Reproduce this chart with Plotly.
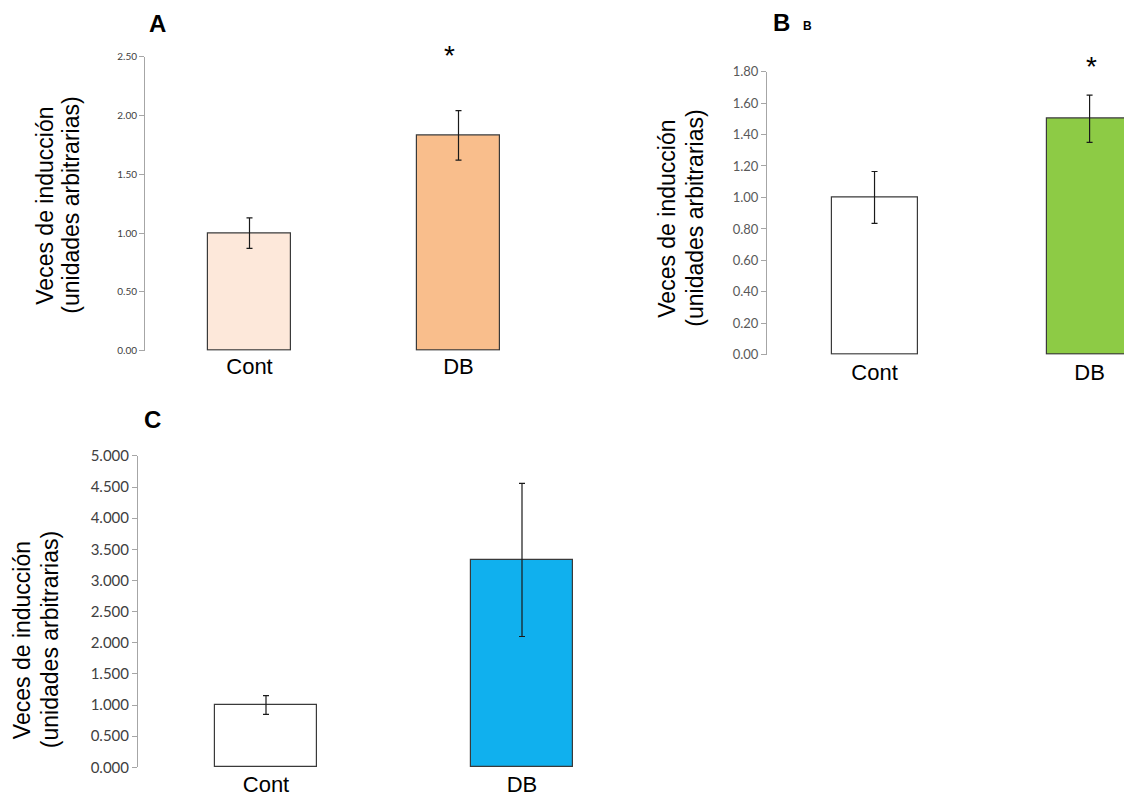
import plotly.graph_objects as go

W = 1124
FIG_H = 818
# measured mapping of figure pixels to the captured picture: shot_y = 9.5 + 0.977 * fig_y
SHOT_OFF = 9.5
SHOT_SCALE = 0.977

categories = ["Cont", "DB"]

a_values = [1.00, 1.83]
a_err = [0.13, 0.21]
a_colors = ["#FDE8DA", "#F9BE8C"]
a_ticks = [0.0, 0.5, 1.0, 1.5, 2.0, 2.5]

b_values = [1.00, 1.50]
b_err = [0.165, 0.15]
b_colors = ["#FFFFFF", "#8DCB45"]
b_ticks = [0.0, 0.2, 0.4, 0.6, 0.8, 1.0, 1.2, 1.4, 1.6, 1.8]

c_values = [1.00, 3.33]
c_err = [0.15, 1.23]
c_colors = ["#FFFFFF", "#10B0EE"]
c_ticks = [0.0, 0.5, 1.0, 1.5, 2.0, 2.5, 3.0, 3.5, 4.0, 4.5, 5.0]

ytitle1 = "Veces de inducción"
ytitle2 = "(unidades arbitrarias)"


def px(x):
    return x / W


def py(y):
    fig_y = (y - SHOT_OFF) / SHOT_SCALE
    return 1 - fig_y / FIG_H


fig = go.Figure()

panels = [
    ("x", "y", a_values, a_err, a_colors),
    ("x2", "y2", b_values, b_err, b_colors),
    ("x3", "y3", c_values, c_err, c_colors),
]
for xa, ya, vals, errs, cols in panels:
    fig.add_trace(go.Bar(
        x=categories, y=vals, xaxis=xa, yaxis=ya, width=0.4,
        marker=dict(color=cols, line=dict(color="#3A3A3A", width=1.2)),
        error_y=dict(type="data", array=errs, visible=True, color="#1A1A1A",
                     thickness=1.2, width=3),
        showlegend=False, hoverinfo="skip",
    ))

xcommon = dict(showline=False, showgrid=False, zeroline=False, ticks="",
               tickfont=dict(family="Liberation Sans, Arial", size=22, color="#000000"),
               type="category", fixedrange=True)
ycommon = dict(showline=True, linecolor="#A6A6A6", linewidth=1, showgrid=False,
               zeroline=False, ticks="outside", ticklen=5, tickcolor="#A6A6A6",
               tickwidth=1, fixedrange=True)

fig.update_layout(
    width=W, height=FIG_H,
    margin=dict(l=0, r=0, t=0, b=0),
    paper_bgcolor="white", plot_bgcolor="rgba(0,0,0,0)",
    bargap=0,
    xaxis=dict(xcommon, domain=[px(145), px(563)], range=[-0.5, 1.5], anchor="y"),
    yaxis=dict(ycommon, domain=[py(350), py(56)], range=[0, 2.5], anchor="x",
               tickvals=a_ticks, tickformat=".2f",
               tickfont=dict(family="Lato", size=10, color="#404040")),
    xaxis2=dict(xcommon, domain=[px(767), 1.0], range=[-0.5, 1.16], anchor="y2",
                ticklabelstandoff=2),
    yaxis2=dict(ycommon, domain=[py(354), py(71)], range=[0, 1.8], anchor="x2",
                tickvals=b_ticks, tickformat=".2f",
                tickfont=dict(family="Lato", size=13, color="#595959")),
    xaxis3=dict(xcommon, domain=[px(138), px(650)], range=[-0.5, 1.5], anchor="y3",
                ticklabelstandoff=2),
    yaxis3=dict(ycommon, domain=[py(766), py(455)], range=[0, 5], anchor="x3",
                tickvals=c_ticks, tickformat=".3f",
                tickfont=dict(family="Lato", size=15, color="#404040")),
)

title_font = dict(family="Liberation Sans, Arial", size=23, color="#000000")
annotations = []
for (x1, x2, yc) in [(45, 71, 205), (667, 695, 218), (22, 50, 639)]:
    annotations.append(dict(x=px(x1), y=py(yc), xref="paper", yref="paper",
                            text=ytitle1, textangle=-90, showarrow=False,
                            font=title_font, xanchor="center", yanchor="middle"))
    annotations.append(dict(x=px(x2), y=py(yc), xref="paper", yref="paper",
                            text=ytitle2, textangle=-90, showarrow=False,
                            font=title_font, xanchor="center", yanchor="middle"))

label_font = dict(family="Liberation Sans, Arial", size=24, color="#000000")
for (t, x, y) in [("<b>A</b>", 157, 23), ("<b>B</b>", 781, 22), ("<b>C</b>", 152, 419)]:
    annotations.append(dict(x=px(x), y=py(y), xref="paper", yref="paper", text=t,
                            showarrow=False, font=label_font,
                            xanchor="center", yanchor="middle"))
annotations.append(dict(x=px(807), y=py(25), xref="paper", yref="paper", text="<b>B</b>",
                        showarrow=False, font=dict(family="Liberation Sans, Arial", size=12,
                                                   color="#000000"),
                        xanchor="center", yanchor="middle"))

star_font = dict(family="Liberation Sans, Arial", size=28, color="#000000")
for (x, y) in [(449, 55), (1091, 66)]:
    annotations.append(dict(x=px(x), y=py(y), xref="paper", yref="paper", text="*",
                            showarrow=False, font=star_font,
                            xanchor="center", yanchor="middle"))

fig.update_layout(annotations=annotations)

page_js = (
    "document.documentElement.style.margin='0';"
    "document.documentElement.style.padding='0';"
    "document.documentElement.style.overflow='hidden';"
    "document.body.style.margin='0';"
    "document.body.style.padding='0';"
    "document.body.style.overflow='hidden';"
    "var gd=document.getElementById('{plot_id}');"
    "gd.style.position='fixed';gd.style.top='0px';gd.style.left='0px';"
)

fig.write_html("out.html", post_script=page_js, config={"displayModeBar": False})
